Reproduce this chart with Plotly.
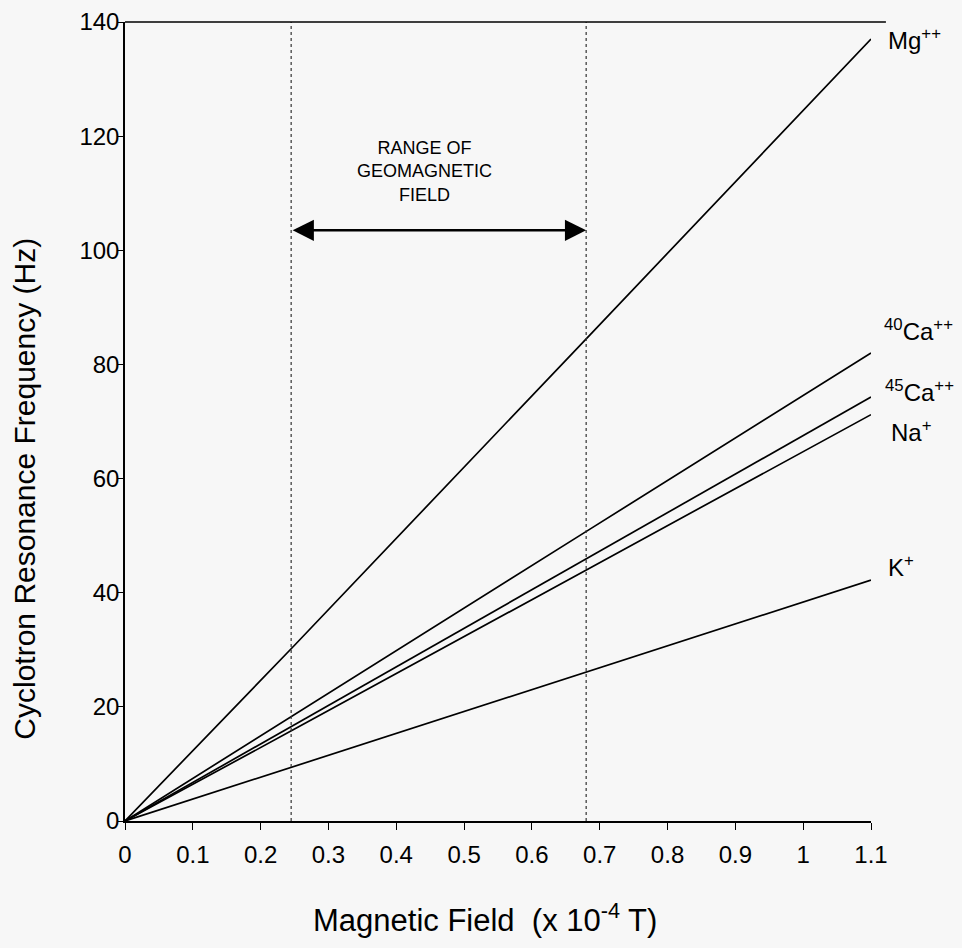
import plotly.graph_objects as go

# ---- data ----
field = [0, 0.25, 0.685, 1.1]            # Magnetic field (x 10^-4 T)
mg = [0, 30.8, 85.1, 137.0]              # Mg++
ca40 = [0, 18.6, 51.1, 82.0]             # 40Ca++
ca45 = [0, 16.9, 46.3, 74.3]             # 45Ca++
na = [0, 16.1, 44.3, 71.2]               # Na+
k = [0, 9.6, 26.2, 42.2]                 # K+

series_names = ["Mg<sup>++</sup>", "<sup>40</sup>Ca<sup>++</sup>",
                "<sup>45</sup>Ca<sup>++</sup>", "Na<sup>+</sup>", "K<sup>+</sup>"]
series_values = [mg, ca40, ca45, na, k]
label_y = [137.0, 86.0, 75.3, 68.3, 44.6]
label_shift = [15, 11, 12, 18, 15]

geo_range = [0.245, 0.68]
arrow_level = 103.5
x_ticks = [0, 0.1, 0.2, 0.3, 0.4, 0.5, 0.6, 0.7, 0.8, 0.9, 1.0, 1.1]
x_ticktext = ["0", "0.1", "0.2", "0.3", "0.4", "0.5", "0.6", "0.7", "0.8", "0.9", "1", "1.1"]
y_ticks = [0, 20, 40, 60, 80, 100, 120, 140]
y_right_ticks = [20, 40, 60, 80, 100, 120]

FONT = "Liberation Sans, Arial, sans-serif"
BG = "#f7f7f7"

fig = go.Figure()
for name, vals in zip(series_names, series_values):
    fig.add_trace(go.Scatter(x=field, y=vals, mode="lines", name=name,
                             line=dict(color="black", width=1.7),
                             showlegend=False, hoverinfo="skip"))

common_x = dict(range=[0, 1.1], tickvals=x_ticks, showgrid=False, zeroline=False,
                tickcolor="black", tickwidth=1, automargin=False)

fig.update_layout(
    width=946, height=932,
    margin=dict(l=117, r=83, t=14, b=119, autoexpand=False),
    paper_bgcolor=BG, plot_bgcolor=BG,
    font=dict(family=FONT, color="black"),
    xaxis=dict(**common_x, ticktext=x_ticktext, ticks="outside", ticklen=7,
               showline=True, linecolor="black", linewidth=1.5,
               tickfont=dict(size=24, family=FONT), ticklabelstandoff=4),
    xaxis2=dict(**common_x, overlaying="x", anchor="y", side="bottom",
                ticks="inside", ticklen=7, showticklabels=False, showline=False),
    xaxis3=dict(**common_x, overlaying="x", anchor="y", side="top",
                ticks="outside", ticklen=6, showticklabels=False,
                showline=True, linecolor="black", linewidth=1.5),
    xaxis4=dict(**common_x, overlaying="x", anchor="y", side="top",
                ticks="inside", ticklen=7, showticklabels=False, showline=False),
    yaxis=dict(range=[0, 140], tickvals=y_ticks, ticks="outside", ticklen=5,
               tickcolor="black", showline=True, linecolor="black", linewidth=1.5,
               showgrid=False, zeroline=False, automargin=False,
               tickfont=dict(size=24, family=FONT), ticklabelstandoff=-6),
    yaxis2=dict(range=[0, 140], tickvals=y_right_ticks, overlaying="y", anchor="x",
                side="right", ticks="outside", ticklen=12, tickcolor="black",
                showticklabels=False, showline=True, linecolor="black",
                linewidth=1.5, showgrid=False, zeroline=False, automargin=False),
)

# geomagnetic range dotted lines
for gx in geo_range:
    fig.add_shape(type="line", xref="x", yref="paper", x0=gx, x1=gx, y0=0, y1=1,
                  line=dict(color="#333333", width=1.2, dash="dot"))

# top border extension beyond right axis
fig.add_shape(type="line", xref="paper", yref="paper", x0=0, x1=1.02, y0=1, y1=1,
              line=dict(color="black", width=1.5))

# double-headed arrow
fig.add_annotation(x=geo_range[1], y=arrow_level, ax=geo_range[0], ay=arrow_level,
                   xref="x", yref="y", axref="x", ayref="y", text="",
                   showarrow=True, arrowside="end+start",
                   arrowhead=2, startarrowhead=2, arrowsize=1.7, startarrowsize=1.7,
                   arrowwidth=2.5, arrowcolor="black", standoff=0, startstandoff=0)

fig.add_annotation(x=0.442, y=113.8, xref="x", yref="y",
                   text="RANGE OF<br>GEOMAGNETIC<br>FIELD", showarrow=False,
                   align="center",
                   font=dict(family="Liberation Sans Narrow, Arial Narrow, Liberation Sans, sans-serif",
                             size=18, color="black"))

# series labels at right
for name, ly, sh in zip(series_names, label_y, label_shift):
    fig.add_annotation(x=1.1, y=ly, xref="x", yref="y", text=name, showarrow=False,
                       xanchor="left", yanchor="middle", xshift=sh,
                       font=dict(family=FONT, size=24, color="black"))

# axis titles
fig.add_annotation(x=0.483, y=-0.121, xref="paper", yref="paper",
                   text="Magnetic Field  (x 10<sup>-4</sup> T)", showarrow=False,
                   xanchor="center", yanchor="middle",
                   font=dict(family=FONT, size=31, color="black"))
fig.add_annotation(x=-0.134, y=0.416, xref="paper", yref="paper",
                   text="Cyclotron Resonance Frequency (Hz)", showarrow=False,
                   textangle=-90, xanchor="center", yanchor="middle",
                   font=dict(family=FONT, size=30, color="black"))

fig.write_html("out.html",
               post_script="document.body.style.background='#f7f7f7';")
